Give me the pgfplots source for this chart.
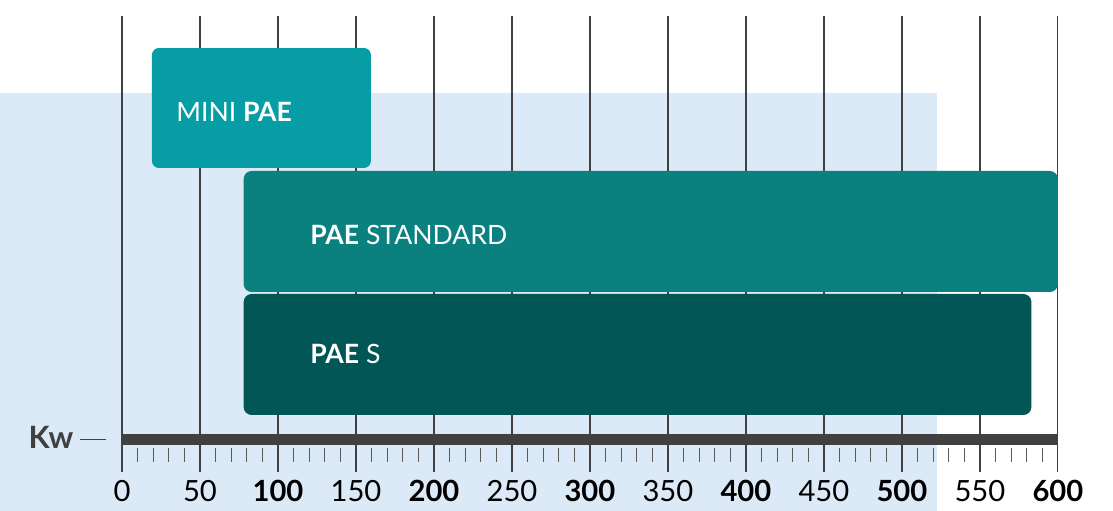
\documentclass[border=0pt]{standalone}
\usepackage{fontspec}
\setmainfont{Lato}
\usepackage{pgfplots}
\pgfplotsset{compat=1.18}
\definecolor{minipae}{HTML}{079DA5}
\definecolor{paestd}{HTML}{0A807F}
\definecolor{paes}{HTML}{025656}
\definecolor{bgblue}{HTML}{DCEAF8}
\definecolor{axdark}{HTML}{404040}

\begin{document}
\begin{tikzpicture}
\begin{axis}[
  set layers,
  scale only axis,
  width=468pt, height=228pt,
  xmin=0, xmax=600, ymin=0, ymax=456,
  clip=false,
  axis line style={draw=none},
  xmajorgrids,
  grid style={draw=black!75, line width=0.55pt},
  major tick length=0pt,
  ytick=\empty,
  xtick={0,50,...,600},
  xticklabels={0,50,\textbf{100},150,\textbf{200},250,\textbf{300},350,\textbf{400},450,\textbf{500},550,\textbf{600}},
  xticklabel style={font=\fontsize{14.6}{17}\selectfont, text=black, yshift=-0.6pt},
]
% light background panel and page extent
\begin{pgfonlayer}{axis background}
  \fill[bgblue] (axis cs:-78.2,-39) rectangle (axis cs:522.4,379);
\end{pgfonlayer}
\path (axis cs:-78.2,-39) rectangle (axis cs:635.3,472);

% bars: start and end in kW
\addplot[fill=minipae, draw=none, rounded corners=3.5pt]
  coordinates {(19.2,304) (159.6,304) (159.6,424) (19.2,424)} -- cycle;
\addplot[fill=paestd, draw=none, rounded corners=4pt]
  coordinates {(78,180) (600,180) (600,301) (78,301)} -- cycle;
\addplot[fill=paes, draw=none, rounded corners=4pt]
  coordinates {(78,57) (583,57) (583,178) (78,178)} -- cycle;

\node[anchor=base west, inner sep=0, text=white, font=\fontsize{13.3}{16}\selectfont]
  at (axis cs:34.6,350.3) {MINI \textbf{PAE}};
\node[anchor=base west, inner sep=0, text=white, font=\fontsize{13.3}{16}\selectfont]
  at (axis cs:120.5,227) {\textbf{PAE} STANDARD};
\node[anchor=base west, inner sep=0, text=white, font=\fontsize{13.3}{16}\selectfont]
  at (axis cs:120.5,108.7) {\textbf{PAE} S};

% scale bar
\draw[axdark, line width=5.5pt] (axis cs:0,32.5) -- (axis cs:600,32.5);
\pgfplotsinvokeforeach{10,20,30,40,60,70,80,90,110,120,130,140,160,170,180,190,
  210,220,230,240,260,270,280,290,310,320,330,340,360,370,380,390,
  410,420,430,440,460,470,480,490,510,520,530,540,560,570,580,590}{
  \draw[black!65, line width=0.5pt] (axis cs:#1,10) -- (axis cs:#1,24);
}
\node[anchor=base east, inner sep=0, text=axdark, font=\fontsize{15.4}{18}\selectfont]
  at (axis cs:-9.8,23.7) {\textbf{Kw}\hspace{3.5pt}\rule[4.1pt]{13pt}{0.75pt}};
\end{axis}
\end{tikzpicture}
\end{document}
